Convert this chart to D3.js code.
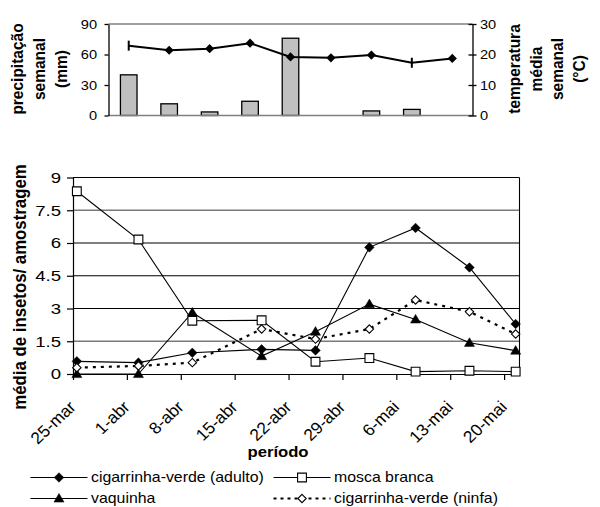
<!DOCTYPE html>
<html>
<head>
<meta charset="utf-8">
<script src="https://cdn.jsdelivr.net/npm/d3@7"></script>
<style>
  html, body { margin: 0; padding: 0; background: #fff; }
  svg { display: block; }
  text { font-family: "Liberation Sans", Arial, sans-serif; fill: #000; }
</style>
</head>
<body>
<svg id="chart" width="600" height="507"></svg>
<script>
// Datas de amostragem
const datas = ["2008-03-25", "2008-04-02", "2008-04-09", "2008-04-18", "2008-04-25",
               "2008-05-02", "2008-05-08", "2008-05-15", "2008-05-21"];

// Clima semanal
const precipitacao = [40, 11.5, 3.5, 14, 76, 0, 4.5, 6, 0];            // mm
const temperatura  = [22.9, 21.4, 21.9, 23.7, 19.2, 18.9, 19.8, 17.3, 18.7]; // °C
const marcadorTemp = ["traco", "losango", "losango", "losango", "losango",
                      "losango", "losango", "traco", "losango"];

// Média de insetos por amostragem
const adulto   = [0.58, 0.52, 0.97, 1.13, 1.08, 5.8, 6.69, 4.88, 2.29];
const mosca    = [8.37, 6.16, 2.44, 2.46, 0.56, 0.73, 0.11, 0.15, 0.11];
const vaquinha = [0, 0, 2.82, 0.82, 1.94, 3.2, 2.5, 1.43, 1.07];
const ninfa    = [0.29, 0.37, 0.52, 2.06, 1.6, 2.06, 3.39, 2.85, 1.83];

// Eixos
const semanas   = ["25-mar", "1-abr", "8-abr", "15-abr", "22-abr", "29-abr", "6-mai", "13-mai", "20-mai"];
const ticksMm   = [0, 30, 60, 90];
const ticksC    = [0, 10, 20, 30];
const ticksInsetos = [0, 1.5, 3, 4.5, 6, 7.5, 9];

const series = [
  { nome: "cigarrinha-verde (adulto)", valores: adulto,   marcador: "losango",  cheio: true,  pontilhado: false },
  { nome: "mosca branca",              valores: mosca,    marcador: "quadrado", cheio: false, pontilhado: false },
  { nome: "vaquinha",                  valores: vaquinha, marcador: "triangulo", cheio: true, pontilhado: false },
  { nome: "cigarrinha-verde (ninfa)",  valores: ninfa,    marcador: "losango",  cheio: false, pontilhado: true }
];

const parse = d3.utcParse("%Y-%m-%d");
const dias = datas.map(parse);

const svg = d3.select("#chart");

// texto levemente alargado na horizontal
function texto(g, x, y, s, o) {
  const t = g.append("text")
    .attr("transform", `translate(${x},${y}) scale(${o.sx || 1},1)` + (o.rot ? ` rotate(${o.rot})` : ""))
    .attr("text-anchor", o.anchor || "start")
    .style("font-size", o.size + "px")
    .style("font-weight", o.bold ? "bold" : "normal")
    .text(s);
  if (o.dy) t.attr("dy", o.dy);
  return t;
}

function simbolo(tipo, r) {
  if (tipo === "losango") return `M0,${-r}L${r},0L0,${r}L${-r},0Z`;
  if (tipo === "quadrado") return `M${-r},${-r}H${r}V${r}H${-r}Z`;
  if (tipo === "triangulo") return `M0,${-r * 1.05}L${r * 1.05},${r * 0.75}L${-r * 1.05},${r * 0.75}Z`;
  return "";
}

// ---------------- Gráfico superior: precipitação e temperatura ----------------
const areaSup = { l: 108.5, r: 472.5, t: 24, b: 115.5 };
const xCat = d3.scaleBand().domain(datas).range([areaSup.l, areaSup.r]).paddingInner(0.59).paddingOuter(0.295);
const yMm = d3.scaleLinear().domain([0, 90]).range([areaSup.b, areaSup.t]);
const yC  = d3.scaleLinear().domain([0, 30]).range([areaSup.b, areaSup.t]);

const gSup = svg.append("g");

gSup.append("line").attr("x1", areaSup.l).attr("x2", areaSup.r).attr("y1", yMm(90)).attr("y2", yMm(90))
  .attr("stroke", "#808080").attr("stroke-width", 1.5);

gSup.selectAll("rect.chuva").data(precipitacao).join("rect")
  .attr("class", "chuva")
  .attr("x", (d, i) => xCat(datas[i]))
  .attr("width", xCat.bandwidth())
  .attr("y", d => yMm(d))
  .attr("height", d => yMm(0) - yMm(d))
  .attr("fill", d => d > 0 ? "#c0c0c0" : "none")
  .attr("stroke", d => d > 0 ? "#000" : "none")
  .attr("stroke-width", 1.3);

gSup.append("line").attr("x1", areaSup.l).attr("x2", areaSup.r).attr("y1", yMm(0)).attr("y2", yMm(0))
  .attr("stroke", "#808080").attr("stroke-width", 1.5);

const eixoMm = gSup.append("g").attr("transform", `translate(${areaSup.l},0)`)
  .call(d3.axisLeft(yMm).tickValues(ticksMm).tickSize(4).tickSizeOuter(0).tickFormat(d3.format("d")));
eixoMm.select(".domain").attr("stroke-width", 1.3);
eixoMm.selectAll(".tick line").attr("stroke-width", 1.3);
eixoMm.selectAll(".tick text").attr("x", -11.5 / 1.17).attr("transform", "scale(1.17,1)")
  .style("font-size", "12.5px").style("font-family", "Liberation Sans, Arial, sans-serif");

const eixoC = gSup.append("g").attr("transform", `translate(${areaSup.r},0)`)
  .call(d3.axisRight(yC).tickValues(ticksC).tickSize(4).tickSizeOuter(0).tickFormat(d3.format("d")));
eixoC.select(".domain").attr("stroke-width", 1.3);
eixoC.selectAll(".tick line").attr("x1", -4).attr("stroke-width", 1.3);
eixoC.selectAll(".tick text").attr("x", 7.5 / 1.17).attr("transform", "scale(1.17,1)")
  .style("font-size", "12.5px").style("font-family", "Liberation Sans, Arial, sans-serif");

const xc = (d, i) => xCat(datas[i]) + xCat.bandwidth() / 2;
gSup.append("path").datum(temperatura)
  .attr("fill", "none").attr("stroke", "#000").attr("stroke-width", 2)
  .attr("d", d3.line().x(xc).y(d => yC(d)));

temperatura.forEach((t, i) => {
  const cx = xc(t, i), cy = yC(t);
  if (marcadorTemp[i] === "losango") {
    gSup.append("path").attr("transform", `translate(${cx},${cy})`)
      .attr("d", simbolo("losango", 4.6)).attr("fill", "#000");
  } else {
    gSup.append("line").attr("x1", cx).attr("x2", cx).attr("y1", cy - 5).attr("y2", cy + 5)
      .attr("stroke", "#000").attr("stroke-width", 2);
  }
});

// títulos dos eixos superiores
["precipitação", "semanal", "(mm)"].forEach((s, k) =>
  texto(gSup, 23 + k * 22, 69, s, { size: 15.5, bold: true, rot: -90, anchor: "middle", sx: 1.1 }));
["temperatura", "média", "semanal", "(°C)"].forEach((s, k) =>
  texto(gSup, 520 + k * 21.5, 69, s, { size: 15.5, bold: true, rot: -90, anchor: "middle", sx: 1.1 }));

// ---------------- Gráfico inferior: insetos ----------------
const areaInf = { l: 73, r: 519.5, t: 177.5, b: 374 };
const inicio = parse("2008-03-25");
const x = d3.scaleUtc().domain([inicio, d3.utcDay.offset(inicio, 58)]).range([areaInf.l, areaInf.r]);
const y = d3.scaleLinear().domain([0, 9]).range([areaInf.b, areaInf.t]);
const xm = d => x(d3.utcHour.offset(d, 12)); // centro do dia

const gInf = svg.append("g");

// linhas de grade
gInf.selectAll("line.grade").data(ticksInsetos.filter(v => v > 0)).join("line")
  .attr("class", "grade")
  .attr("x1", areaInf.l).attr("x2", areaInf.r)
  .attr("y1", d => y(d)).attr("y2", d => y(d))
  .attr("stroke", d => (d === 1.5 || d === 7.5) ? "#7a7a7a" : "#000")
  .attr("stroke-width", d => (d === 1.5 || d === 7.5) ? 1.6 : 1.1);

gInf.append("line").attr("x1", areaInf.r).attr("x2", areaInf.r).attr("y1", areaInf.t).attr("y2", areaInf.b)
  .attr("stroke", "#000").attr("stroke-width", 1.1);

const eixoY = gInf.append("g").attr("transform", `translate(${areaInf.l},0)`)
  .call(d3.axisLeft(y).tickValues(ticksInsetos).tickSize(6).tickSizeOuter(0).tickFormat(d => String(d)));
eixoY.select(".domain").attr("stroke-width", 1.2);
eixoY.selectAll(".tick line").attr("stroke-width", 1.2);
eixoY.selectAll(".tick text").attr("x", -12 / 1.2).attr("transform", "scale(1.2,1)")
  .style("font-size", "15.5px").style("font-family", "Liberation Sans, Arial, sans-serif");

const tickDatas = semanas.map((s, k) => d3.utcDay.offset(inicio, 7 * k));
const eixoX = gInf.append("g").attr("transform", `translate(0,${areaInf.b})`)
  .call(d3.axisBottom(x).tickValues(tickDatas).tickSize(6).tickSizeOuter(0).tickFormat(""));
eixoX.select(".domain").attr("stroke-width", 1.2);
eixoX.selectAll(".tick line").attr("stroke-width", 1.2);
tickDatas.forEach((d, k) =>
  texto(gInf, x(d) + 4, areaInf.b + 34, semanas[k], { size: 16.5, rot: -45, anchor: "end", sx: 1.06 }));

// séries
series.forEach(s => {
  gInf.append("path").datum(s.valores)
    .attr("fill", "none").attr("stroke", "#000")
    .attr("stroke-width", s.pontilhado ? 2.2 : 1.1)
    .attr("stroke-dasharray", s.pontilhado ? "3,5" : null)
    .attr("d", d3.line().x((d, i) => xm(dias[i])).y(d => y(d)));
});
series.forEach(s => {
  gInf.selectAll(null).data(s.valores).join("path")
    .attr("transform", (d, i) => `translate(${xm(dias[i])},${y(d)})`)
    .attr("d", simbolo(s.marcador, s.marcador === "quadrado" ? 4.4 : s.cheio ? 4.8 : 4.2))
    .attr("fill", s.cheio ? "#000" : "#fff")
    .attr("stroke", "#000").attr("stroke-width", s.cheio ? 0.5 : 1.1);
});

// títulos
texto(gInf, 278, 457, "período", { size: 14.5, bold: true, anchor: "middle", sx: 1.15 });
texto(gInf, 26, 287, "média de insetos/ amostragem", { size: 16.8, bold: true, rot: -90, anchor: "middle", sx: 1.1 });

// legenda
const leg = svg.append("g");
const itens = [
  { s: series[0], lx: 30.5, ly: 477.5 },
  { s: series[1], lx: 273.5, ly: 477.5 },
  { s: series[2], lx: 30.5, ly: 498.5 },
  { s: series[3], lx: 273.5, ly: 498.5 }
];
itens.forEach(it => {
  const s = it.s;
  leg.append("line").attr("x1", it.lx).attr("x2", it.lx + 57).attr("y1", it.ly).attr("y2", it.ly)
    .attr("stroke", "#000").attr("stroke-width", s.pontilhado ? 2 : 1.1)
    .attr("stroke-dasharray", s.pontilhado ? "3,4" : null);
  leg.append("path").attr("transform", `translate(${it.lx + 28.5},${it.ly})`)
    .attr("d", simbolo(s.marcador, s.marcador === "quadrado" ? 4.4 : s.cheio ? 4.8 : 4.2))
    .attr("fill", s.cheio ? "#000" : "#fff").attr("stroke", "#000").attr("stroke-width", s.cheio ? 0.5 : 1.1);
  texto(leg, it.lx + 60.5, it.ly, s.nome, { size: 13.8, sx: 1.15, dy: "0.35em" });
});
</script>
</body>
</html>
